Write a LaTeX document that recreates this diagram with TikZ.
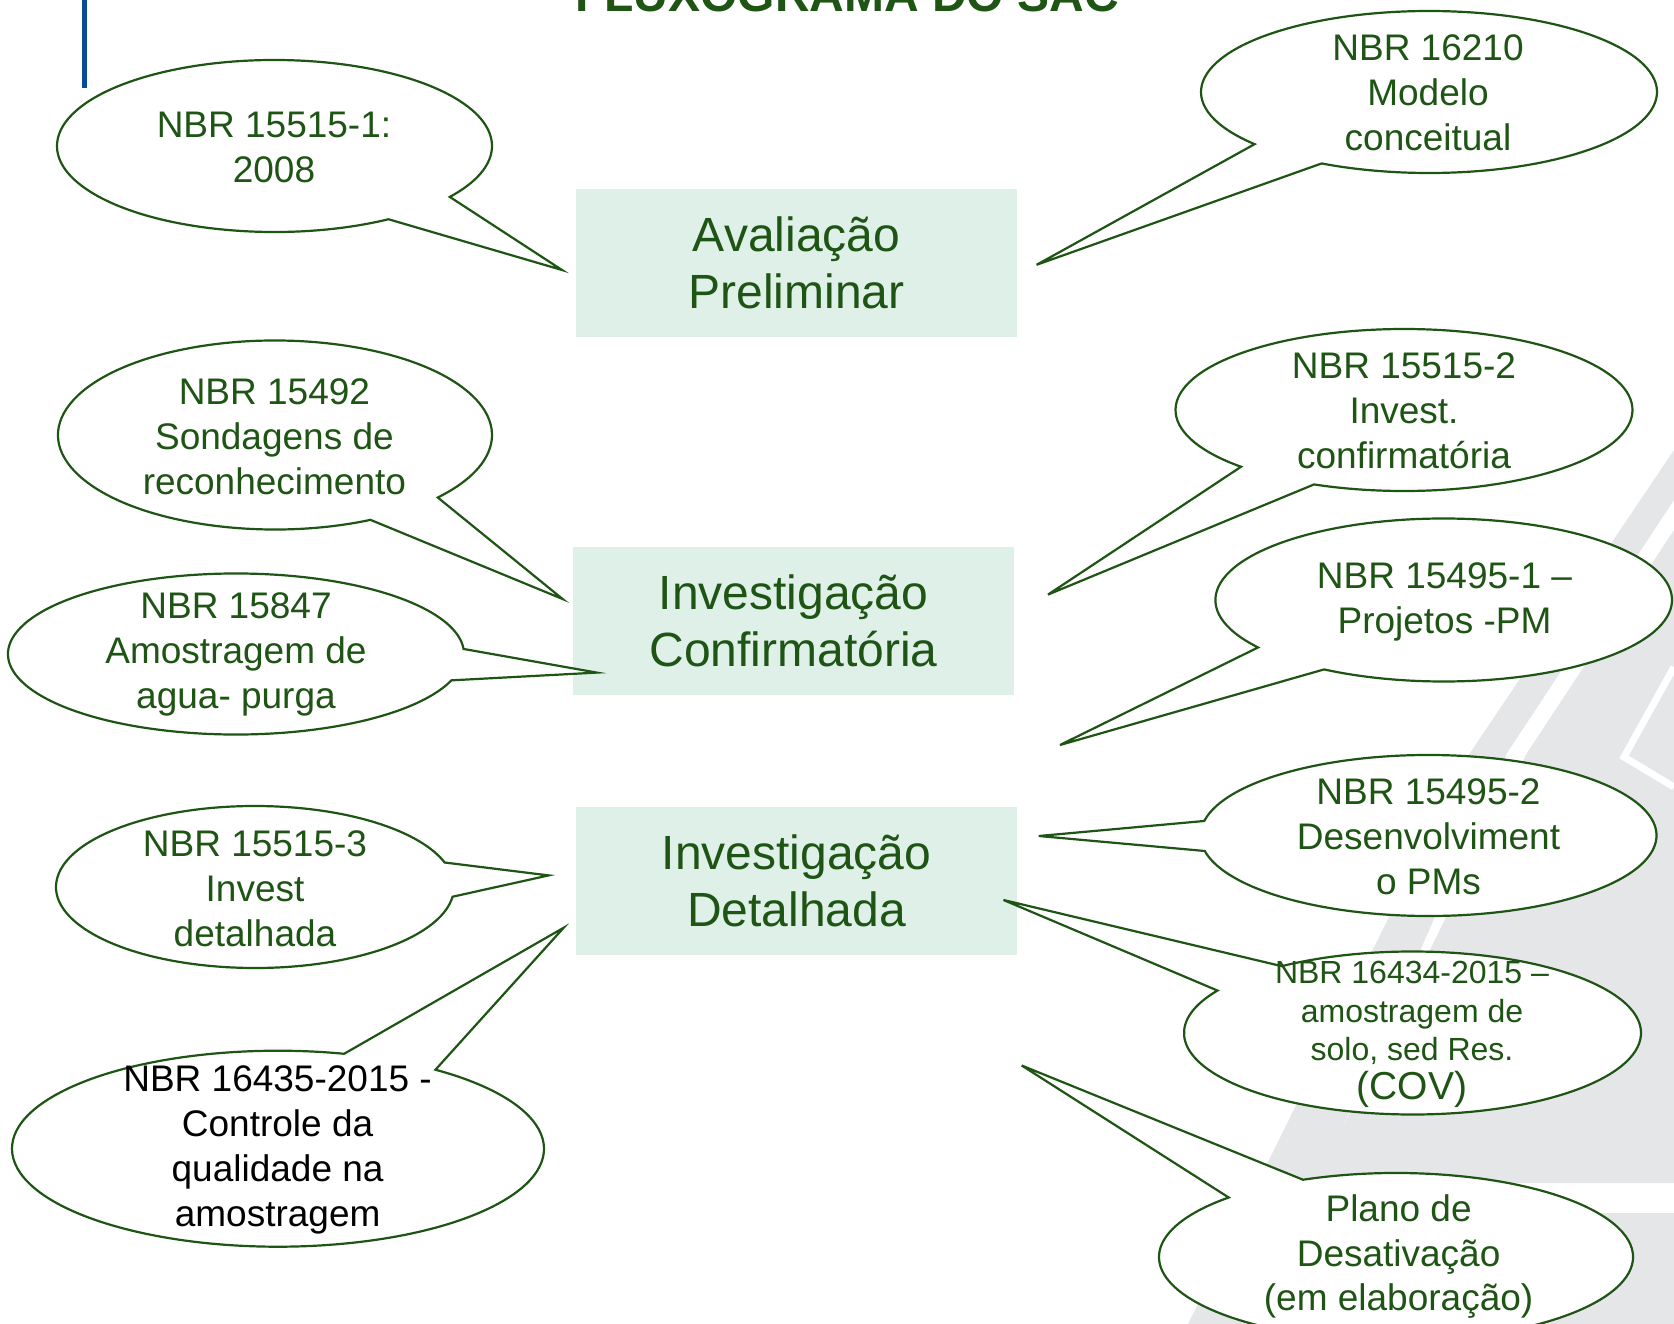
\documentclass[tikz,border=0pt]{standalone}
\usepackage{fontspec}
\setmainfont{Liberation Sans}
\usetikzlibrary{calc}
\definecolor{dkgreen}{RGB}{30,84,20}
\definecolor{mint}{RGB}{223,240,233}
\definecolor{wmgrey}{RGB}{229,230,232}
\definecolor{navyline}{RGB}{8,76,152}
\newcommand{\speech}[6]{% center, rx, ry, t1, t2, tip
  \draw[callout] (#6) -- ($(#1)+({#2*cos(#4)},{#3*sin(#4)})$)
    arc[start angle=#4, end angle=#5, x radius=#2, y radius=#3] -- cycle;}
\tikzset{
  callout/.style={draw=dkgreen, line width=2.2pt, fill=white, line join=miter},
  ctext/.style={text=dkgreen, align=center, inner sep=0pt, font=\fontsize{37}{44.8}\selectfont},
  stagebox/.style={fill=mint, minimum width=441pt, minimum height=148pt, inner sep=0pt,
    text=dkgreen, align=center, font=\fontsize{48}{57.6}\selectfont},
  wm/.style={fill=wmgrey},
}
\begin{document}
\begin{tikzpicture}[x=1pt,y=-1pt]
\useasboundingbox (0,0) rectangle (1674,1324);
\clip (0,0) rectangle (1674,1324);
\fill[white] (0,0) rectangle (1674,1324);
% watermark
\fill[wm] (1188,1324) -- (1470,753) -- (1674,450) -- (1674,500) -- (1507,753) -- (1256,1324) -- cycle;
\fill[wm] (1315,1183) -- (1527,753) -- (1674,530) -- (1674,1183) -- cycle;
\fill[wm] (1290,1324) -- (1347,1213) -- (1674,1213) -- (1674,1324) -- cycle;
\draw[white, line width=7pt] (1674,667) -- (1624,757) -- (1674,787);
% title and side line
\node[anchor=base, text=dkgreen, inner sep=0pt, font=\bfseries\fontsize{48}{58}\selectfont] (title) at (847,12) {FLUXOGRAMA DO SAC};
\draw[navyline, line width=5.5pt] (84.5,0) coordinate (bl1) -- (84.5,88) coordinate (bl2);
% stage boxes
\node[stagebox] (b1) at (796.5,263) {Avaliação\\Preliminar};
\node[stagebox] (b2) at (793.5,621) {Investigação\\Confirmatória};
\node[stagebox] (b3) at (796.5,881) {Investigação\\Detalhada};
% centres and tips
\coordinate (e1) at (274.5,146);   \coordinate (p1) at (562,270);
\coordinate (e2) at (1429,92);     \coordinate (p2) at (1036.6,264.8);
\coordinate (e3) at (275,435);     \coordinate (p3) at (562.6,599);
\coordinate (e4) at (236,654);     \coordinate (p4) at (596.8,672.6);
\coordinate (e5) at (1404,410);    \coordinate (p5) at (1048,594.6);
\coordinate (e6) at (1443.7,600);  \coordinate (p6) at (1060,745);
\coordinate (e7) at (1428.5,835.5);\coordinate (p7) at (1038.8,836);
\coordinate (e8) at (1412.5,1033); \coordinate (p8) at (1003.5,900);
\coordinate (e9) at (1396,1257);   \coordinate (p9) at (1021.7,1065.5);
\coordinate (e10) at (278,1148.7); \coordinate (p10) at (563.7,927.7);
\coordinate (e11) at (255,887);    \coordinate (p11) at (548.7,875.4);
% callouts
\speech{e1}{217.5}{86}{58.4}{396.3}{p1}
\speech{e2}{228}{81}{139.9}{478.1}{p2}
\speech{e3}{217}{94.5}{63.9}{401.4}{p3}
\speech{e4}{228}{80.5}{19.1}{356.4}{p4}
\speech{e5}{228.5}{81}{135.5}{473.2}{p5}
\speech{e6}{228.3}{81.5}{144.4}{481.6}{p6}
\speech{e7}{228}{80.5}{190.4}{528.9}{p7}
\speech{e8}{228.5}{81.5}{235.1}{571.4}{p8}
\speech{e9}{237}{84}{246.9}{585.1}{p9}
\speech{e10}{266}{98}{306.3}{644.4}{p10}
\speech{e11}{199}{81}{6.9}{342.4}{p11}
% callout texts
\node[ctext] (t1) at (274,147.5) {NBR 15515-1:\\2008};
\node[ctext] (t2) at (1428,93) {NBR 16210\\Modelo\\conceitual};
\node[ctext] (t3) at (274.4,437) {NBR 15492\\Sondagens de\\reconhecimento};
\node[ctext] (t4) at (236,654.4) {NBR 15847\\Amostragem de\\agua- purga};
\node[ctext] (t5) at (1404,411) {NBR 15515-2\\Invest.\\confirmatória};
\node[ctext] (t6) at (1444.5,602) {NBR 15495-1 –\\Projetos -PM};
\node[ctext] (t7) at (1428.5,837) {NBR 15495-2\\Desenvolviment\\o PMs};
\node[ctext, font=\fontsize{32}{38.4}\selectfont] (t8) at (1412,1013) {NBR 16434-2015 –\\amostragem de\\solo, sed Res.};
\node[ctext, font=\fontsize{39}{46}\selectfont] (t8b) at (1412,1089) {(COV)};
\node[ctext] (t9) at (1398.6,1256.6) {Plano de\\Desativação\\(em elaboração)};
\node[ctext, text=black] (t10) at (277.6,1150) {NBR 16435-2015 -\\Controle da\\qualidade na\\amostragem};
\node[ctext] (t11) at (255,888.5) {NBR 15515-3\\Invest\\detalhada};
\end{tikzpicture}
\end{document}
